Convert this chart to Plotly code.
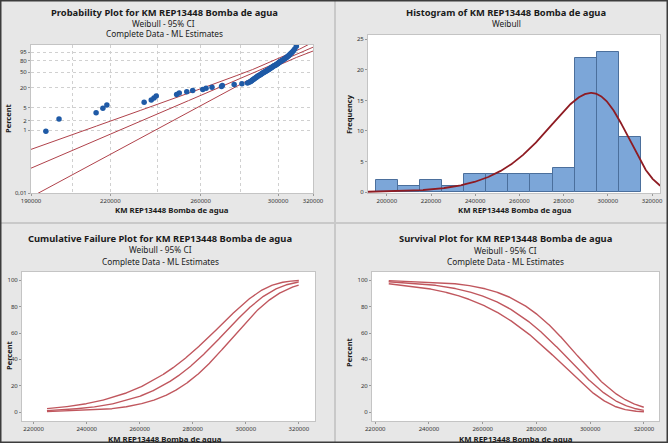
import numpy as np
import plotly.graph_objects as go

# ---------------- data ----------------
km_values = [
    195300, 200100, 214300, 217000, 218600, 234200, 237300, 238500, 239500, 248700,
    249900, 253400, 256200, 261000, 262600, 265500, 270200, 270600, 276600, 280600,
    283500, 284400,
    285200, 285700, 286100, 286600, 287000, 287500, 288000, 288400, 288900, 289300,
    289800, 290300, 290700, 291200, 291600, 292100, 292600, 293000, 293500, 293900,
    294400, 294800,
    295200, 295600, 296000, 296400, 296800, 297200, 297600, 298000, 298500, 298900,
    299300, 299700, 300100, 300500, 300900, 301300, 301700, 302200, 302700, 303200,
    303700, 304200, 304700,
    305200, 305700, 306200, 306700, 307300, 307900, 308600, 309400, 310300,
]
weibull_shape = 17.0
weibull_scale = 293500.0
ci_z = 1.96
# variance coefficients of the log-percentile estimate (a + b*w^2 + c*w) / n, read from band widths
ci_var_a, ci_var_b, ci_var_c = 1.21, 0.86, -0.87

hist_bin_start = 195000
hist_bin_end = 315000
hist_bin_size = 10000

prob_y_tick_pct = [0.01, 1, 2, 5, 20, 50, 80, 95]
prob_y_tick_text = ["0,01", "1", "2", "5", "20", "50", "80", "95"]
prob_x_ticks = [190000, 220000, 260000, 300000, 320000]
prob_x_grid = [205000, 220000, 240000, 260000, 280000, 300000]
hist_x_ticks = [200000, 220000, 240000, 260000, 280000, 300000, 320000]
hist_y_ticks = [0, 5, 10, 15, 20, 25]
cdf_x_ticks = [220000, 240000, 260000, 280000, 300000, 320000]
pct_ticks = [0, 20, 40, 60, 80, 100]
curve_x_start = 225000
curve_x_end = 320000

x_label = "KM REP13448 Bomba de agua"

# ---------------- helpers ----------------
W, H = 668, 443
RED = "#b0424b"
RED_LIGHT = "#c0575e"


def wtrans(p):
    return np.log(-np.log(1.0 - np.asarray(p, dtype=float)))


n = len(km_values)
u = np.log(weibull_scale)
sig = 1.0 / weibull_shape


def se_w(w):
    return np.sqrt((ci_var_a + ci_var_b * w ** 2 + ci_var_c * w) / n)


wgrid = np.linspace(-13, 3, 4000)
x_mid_w = np.exp(u + sig * wgrid)
x_lo_w = np.exp(u + sig * (wgrid - ci_z * se_w(wgrid)))  # upper percent band
x_hi_w = np.exp(u + sig * (wgrid + ci_z * se_w(wgrid)))  # lower percent band
F_w = 1 - np.exp(-np.exp(wgrid))

fig = go.Figure()

# ---- panel 1: probability plot ----
xs = np.sort(np.array(km_values, dtype=float))
ranks = (np.arange(1, n + 1) - 0.3) / (n + 0.4)
for xx in (x_lo_w, x_mid_w, x_hi_w):
    fig.add_trace(go.Scatter(x=xx, y=wgrid, mode="lines", line=dict(color=RED, width=1),
                             xaxis="x", yaxis="y", showlegend=False, hoverinfo="skip"))
fig.add_trace(go.Scatter(x=xs, y=wtrans(ranks), mode="markers",
                         marker=dict(color="#1f5aa6", size=5.5),
                         xaxis="x", yaxis="y", showlegend=False))

# ---- panel 2: histogram ----
fig.add_trace(go.Histogram(x=km_values, xbins=dict(start=hist_bin_start, end=hist_bin_end, size=hist_bin_size),
                           marker=dict(color="#7ca6d8", line=dict(color="#4b6f9c", width=1)),
                           xaxis="x2", yaxis="y2", showlegend=False))
xp = np.linspace(190000, 325000, 600)
zz = (xp / weibull_scale) ** weibull_shape
pdf = weibull_shape / xp * zz * np.exp(-zz)
fig.add_trace(go.Scatter(x=xp, y=pdf * n * hist_bin_size, mode="lines",
                         line=dict(color="#8e1b22", width=1.8), xaxis="x2", yaxis="y2",
                         showlegend=False, hoverinfo="skip"))

# ---- panels 3 & 4: cumulative failure / survival ----
for xx in (x_lo_w, x_mid_w, x_hi_w):
    m = (xx >= curve_x_start) & (xx <= curve_x_end)
    fig.add_trace(go.Scatter(x=xx[m], y=100 * F_w[m], mode="lines", line=dict(color=RED_LIGHT, width=1.4),
                             xaxis="x3", yaxis="y3", showlegend=False, hoverinfo="skip"))
    fig.add_trace(go.Scatter(x=xx[m], y=100 * (1 - F_w[m]), mode="lines", line=dict(color=RED_LIGHT, width=1.4),
                             xaxis="x4", yaxis="y4", showlegend=False, hoverinfo="skip"))


def px_dom_x(a, b):
    return [a / W, b / W]


def px_dom_y(top, bottom):
    return [1 - bottom / H, 1 - top / H]


tickfont = dict(size=6, color="#333333", family="Noto Sans")
axis_common = dict(showline=True, linecolor="#c4c4c4", mirror=True, ticks="outside",
                   ticklen=2, tickcolor="#999999", tickfont=tickfont, zeroline=False,
                   automargin=False)

fig.update_layout(
    width=W, height=H, margin=dict(l=0, r=0, t=0, b=0),
    paper_bgcolor="#e7e7e7", plot_bgcolor="white", bargap=0,
    font=dict(family="Noto Sans", color="#222222"),
    xaxis=dict(domain=px_dom_x(31, 313), type="log", range=[np.log10(190000), np.log10(320000)],
               tickvals=prob_x_ticks, ticktext=[str(v) for v in prob_x_ticks], showgrid=False,
               minor=dict(tickvals=prob_x_grid, showgrid=True, gridcolor="#d0d0d0", griddash="dot",
                          ticklen=0),
               anchor="y", **axis_common),
    yaxis=dict(domain=px_dom_y(45, 193), range=[wtrans(0.0001), wtrans(0.994)],
               tickvals=list(wtrans(np.array(prob_y_tick_pct) / 100)), ticktext=prob_y_tick_text,
               showgrid=True, gridcolor="#d0d0d0", griddash="dot", anchor="x", **axis_common),
    xaxis2=dict(domain=px_dom_x(368, 660), range=[191500, 323600], tickvals=hist_x_ticks,
                ticktext=[str(v) for v in hist_x_ticks], showgrid=False, anchor="y2", **axis_common),
    yaxis2=dict(domain=px_dom_y(35, 193), range=[-0.15, 25.7], tickvals=hist_y_ticks,
                showgrid=False, anchor="x2", **axis_common),
    xaxis3=dict(domain=px_dom_x(22, 315), range=[215600, 326100], tickvals=cdf_x_ticks,
                ticktext=[str(v) for v in cdf_x_ticks], showgrid=False, anchor="y3", **axis_common),
    yaxis3=dict(domain=px_dom_y(272, 421), range=[-6.8, 106.3], tickvals=pct_ticks,
                showgrid=False, anchor="x3", **axis_common),
    xaxis4=dict(domain=px_dom_x(372, 659), range=[218800, 325600], tickvals=cdf_x_ticks,
                ticktext=[str(v) for v in cdf_x_ticks], showgrid=False, anchor="y4", **axis_common),
    yaxis4=dict(domain=px_dom_y(272, 421), range=[-6.8, 106.3], tickvals=pct_ticks,
                showgrid=False, anchor="x4", **axis_common),
)

# panel frames and separators
shapes = [
    dict(type="line", xref="paper", yref="paper", x0=335 / W, x1=335 / W, y0=0, y1=1,
         line=dict(color="#c9c9c9", width=2)),
    dict(type="line", xref="paper", yref="paper", x0=0, x1=1, y0=1 - 223 / H, y1=1 - 223 / H,
         line=dict(color="#c9c9c9", width=2)),
    dict(type="rect", xref="paper", yref="paper", x0=0.5 / W, x1=1 - 0.5 / W, y0=0.5 / H, y1=1 - 0.5 / H,
         line=dict(color="#3c3c3c", width=2)),
]
fig.update_layout(shapes=shapes)


def ann(text, xpix, ypix, size, bold=False, angle=0):
    return dict(text=f"<b>{text}</b>" if bold else text, x=xpix / W, y=1 - ypix / H,
                xref="paper", yref="paper", showarrow=False, xanchor="center", yanchor="middle",
                textangle=angle, font=dict(size=size, color="#1a1a1a", family="Noto Sans"))


TS, SS, AS = 9.4, 8.3, 7.8
anns = [
    ann("Probability Plot for KM REP13448 Bomba de agua", 164, 12, TS, True),
    ann("Weibull - 95% CI", 163, 23, SS),
    ann("Complete Data - ML Estimates", 164, 33.5, SS),
    ann(x_label, 172, 210.5, AS, True),
    ann("Percent", 8, 118, 7.5, True, -90),

    ann("Histogram of KM REP13448 Bomba de agua", 506, 12, TS, True),
    ann("Weibull", 506, 24, SS),
    ann(x_label, 515, 210.5, AS, True),
    ann("Frequency", 349, 114, 7.5, True, -90),

    ann("Cumulative Failure Plot for KM REP13448 Bomba de agua", 160, 239, TS, True),
    ann("Weibull - 95% CI", 160, 249.5, SS),
    ann("Complete Data - ML Estimates", 160, 261, SS),
    ann(x_label, 165, 438.5, AS, True),
    ann("Percent", 9, 355, 7.5, True, -90),

    ann("Survival Plot for KM REP13448 Bomba de agua", 505, 239, TS, True),
    ann("Weibull - 95% CI", 505, 250, SS),
    ann("Complete Data - ML Estimates", 505, 261, SS),
    ann(x_label, 516, 438.5, AS, True),
    ann("Percent", 349, 352, 7.5, True, -90),
]
fig.update_layout(annotations=anns)

fig.write_html("out.html", config={"displayModeBar": False},
               post_script="document.body.style.margin='0';document.body.style.overflow='hidden';")
